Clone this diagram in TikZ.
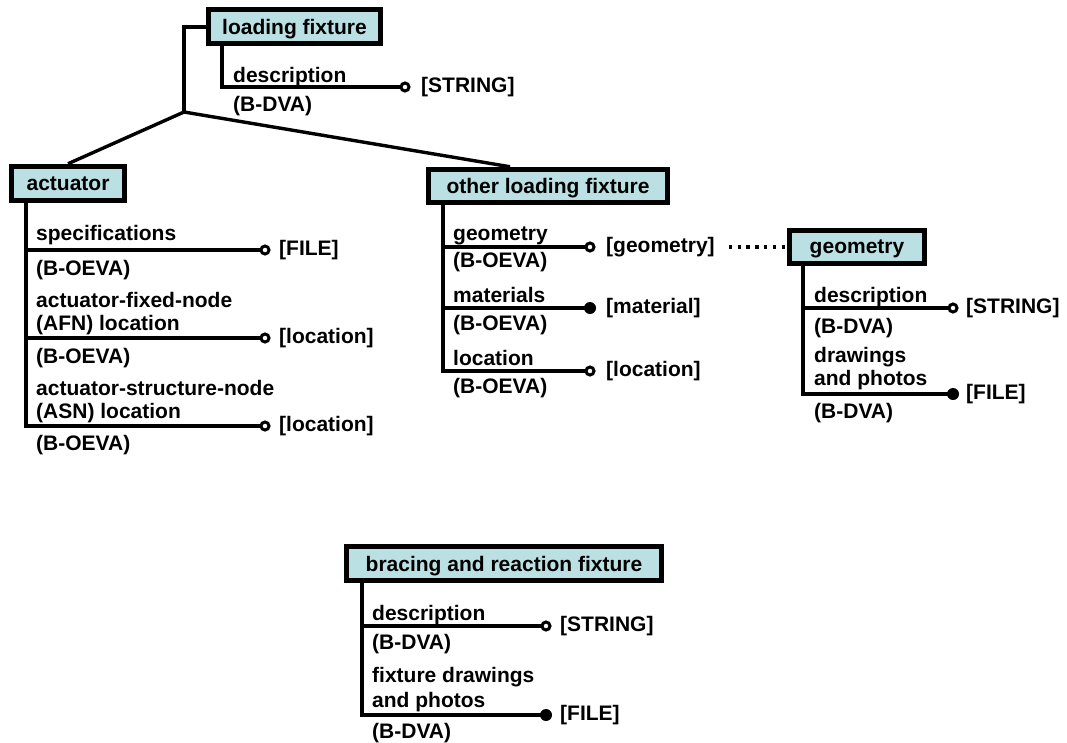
\documentclass[tikz,border=0pt]{standalone}
\usepackage{fontspec}
\setmainfont{Liberation Sans}
\usetikzlibrary{calc}
\definecolor{boxblue}{RGB}{186,224,227}
\tikzset{
  entity/.style={draw=black, line width=5.5pt, fill=boxblue, inner sep=0pt, minimum height=34pt, text depth=0pt},
  lbl/.style={inner sep=0pt, anchor=base west},
  conn/.style={line width=4pt, line cap=rect},
  diag/.style={line width=3.4pt},
  ocirc/.style={circle, draw=black, fill=white, line width=3pt, minimum size=8pt, inner sep=0pt},
  fcirc/.style={circle, fill=black, minimum size=12pt, inner sep=0pt},
  dotline/.style={line width=3.5pt, dash pattern=on 3.5pt off 5.3pt}
}
\begin{document}
\begin{tikzpicture}[x=1pt, y=-1pt, font=\fontsize{21}{24}\selectfont\bfseries]
\useasboundingbox (0,0) rectangle (1067,742);

% ---------- entity boxes ----------
\node[entity, minimum width=172pt] (lf) at (294.5,26.5) {loading fixture};
\node[entity, minimum width=113pt] (act) at (68,183.5) {actuator};
\node[entity, minimum width=239pt, minimum height=33pt] (olf) at (548,186) {other loading fixture};
\node[entity, minimum width=135pt, minimum height=33pt] (geo) at (857,247) {geometry};
\node[entity, minimum width=315pt] (brf) at (504,563.5) {bracing and reaction fixture};

% ---------- tree from loading fixture ----------
\coordinate (j) at (184,112);
\draw[conn] (lf.west) -| (j);
\draw[diag] (j) -- (act.north);
\draw[diag] (j) -- ([xshift=-38pt]olf.north);

% loading fixture attribute
\node[ocirc] (lc1) at (405,87) {};
\draw[conn] ([xshift=-72.5pt]lf.south) |- (lc1.west);
\node[lbl] (lt1) at (233,82) {description};
\node[lbl] (lt2) at (233,111) {(B-DVA)};
\node[lbl] (lv1) at (421,92) {[STRING]};

% ---------- actuator ----------
\coordinate (actT) at ([xshift=-42pt]act.south);
\node[ocirc] (ac1) at (265,250) {};
\node[ocirc] (ac2) at (265,338) {};
\node[ocirc] (ac3) at (265,426) {};
\draw[conn] (actT) |- (ac3.west);
\draw[conn] (actT |- ac1.west) -- (ac1.west);
\draw[conn] (actT |- ac2.west) -- (ac2.west);
\node[lbl] at (36,240) {specifications};
\node[lbl] at (36,275) {(B-OEVA)};
\node[lbl] at (279,255) {[FILE]};
\node[lbl] at (36,307) {actuator-fixed-node};
\node[lbl] at (36,330) {(AFN) location};
\node[lbl] at (36,363) {(B-OEVA)};
\node[lbl] at (279,343) {[location]};
\node[lbl] at (36,395) {actuator-structure-node};
\node[lbl] at (36,418) {(ASN) location};
\node[lbl] at (36,450) {(B-OEVA)};
\node[lbl] at (279,431) {[location]};

% ---------- other loading fixture ----------
\coordinate (olfT) at ([xshift=-105pt]olf.south);
\node[ocirc] (oc1) at (590,247) {};
\node[fcirc] (oc2) at (590,308) {};
\node[ocirc] (oc3) at (590,371) {};
\draw[conn] (olfT) |- (oc3.west);
\draw[conn] (olfT |- oc1.west) -- (oc1.west);
\draw[conn] (olfT |- oc2.west) -- (oc2.west);
\node[lbl] at (453,240) {geometry};
\node[lbl] at (453,267) {(B-OEVA)};
\node[lbl] (og) at (606,252) {[geometry]};
\node[lbl] at (453,302) {materials};
\node[lbl] at (453,330) {(B-OEVA)};
\node[lbl] at (606,313) {[material]};
\node[lbl] at (453,365) {location};
\node[lbl] at (453,393) {(B-OEVA)};
\node[lbl] at (606,376) {[location]};
\draw[dotline] ([xshift=-58pt]geo.west) -- (geo.west);

% ---------- geometry ----------
\coordinate (geoT) at ([xshift=-54pt]geo.south);
\node[ocirc] (gc1) at (953,308) {};
\node[fcirc] (gc2) at (953,394) {};
\draw[conn] (geoT) |- (gc2.west);
\draw[conn] (geoT |- gc1.west) -- (gc1.west);
\node[lbl] at (814,302) {description};
\node[lbl] at (814,333) {(B-DVA)};
\node[lbl] at (966,313) {[STRING]};
\node[lbl] at (814,362) {drawings};
\node[lbl] at (814,385) {and photos};
\node[lbl] at (814,418) {(B-DVA)};
\node[lbl] at (966,399) {[FILE]};

% ---------- bracing and reaction fixture ----------
\coordinate (brfT) at ([xshift=-142pt]brf.south);
\node[ocirc] (bc1) at (546,626) {};
\node[fcirc] (bc2) at (546,715) {};
\draw[conn] (brfT) |- (bc2.west);
\draw[conn] (brfT |- bc1.west) -- (bc1.west);
\node[lbl] at (372,620) {description};
\node[lbl] at (372,649) {(B-DVA)};
\node[lbl] at (560,631) {[STRING]};
\node[lbl] at (372,682) {fixture drawings};
\node[lbl] at (372,707) {and photos};
\node[lbl] at (372,738) {(B-DVA)};
\node[lbl] at (560,720) {[FILE]};
\end{tikzpicture}
\end{document}
